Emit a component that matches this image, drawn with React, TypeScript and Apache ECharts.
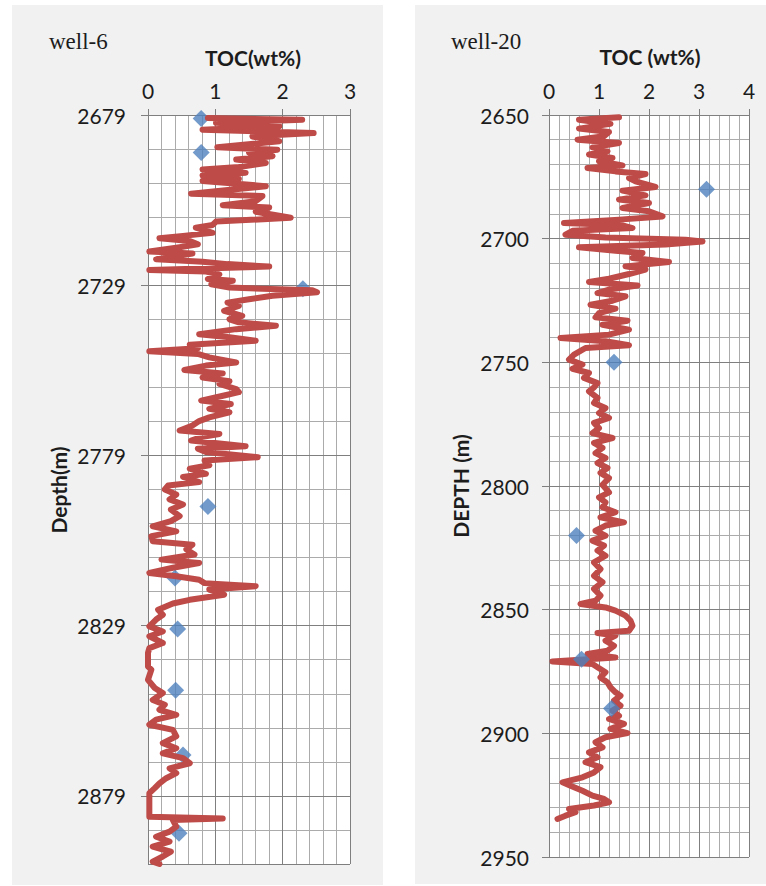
import React, { useEffect, useRef } from "react";
import * as echarts from "echarts";

// ---------------- well-6 ----------------
const well6XTicks = [0, 1, 2, 3];
const well6DepthTicks = [2679, 2729, 2779, 2829, 2879];

const well6LogDepth = [
  2679.9, 2680.4, 2681.3, 2682.3, 2683.3, 2684.3, 2685.3, 2686.7, 2688.5, 2689.2,
  2690.1, 2691.1, 2692.1, 2693.1, 2694.3, 2695.0, 2696.0, 2696.8, 2697.8, 2698.4,
  2699.9, 2700.9, 2702.1, 2702.8, 2704.3, 2705.5, 2706.2, 2707.4, 2709.2, 2710.3,
  2711.3, 2712.1, 2713.6, 2714.5, 2715.2, 2716.0, 2717.0, 2718.0, 2719.1, 2719.7,
  2721.4, 2722.1, 2722.8, 2723.5, 2724.5, 2725.0, 2725.8, 2727.2, 2727.7, 2728.7,
  2729.7, 2730.5, 2731.1, 2732.1, 2733.1, 2734.1, 2735.1, 2736.5, 2738.0, 2739.0,
  2739.9, 2740.9, 2741.9, 2743.4, 2744.3, 2745.3, 2746.5, 2747.5, 2748.4, 2749.2,
  2750.2, 2751.7, 2752.6, 2753.9, 2754.9, 2756.1, 2757.2, 2758.0, 2759.5, 2760.4,
  2761.4, 2762.9, 2763.9, 2765.3, 2766.3, 2767.8, 2768.9, 2770.2, 2771.7, 2772.7,
  2773.6, 2774.6, 2776.3, 2777.0, 2778.0, 2779.5, 2780.5, 2781.9, 2782.9, 2784.4,
  2785.3, 2786.8, 2787.8, 2789.0, 2790.5, 2791.9, 2793.4, 2794.9, 2796.8, 2798.3,
  2799.8, 2801.3, 2802.7, 2804.2, 2805.2, 2806.6, 2808.1, 2809.6, 2810.6, 2812.0,
  2813.5, 2814.5, 2815.5, 2816.5, 2817.4, 2818.4, 2819.9, 2821.4, 2822.5, 2824.3,
  2825.8, 2827.2, 2829.2, 2830.7, 2832.1, 2834.1, 2835.6, 2837.0, 2841.0, 2841.9,
  2844.9, 2847.3, 2848.8, 2850.8, 2852.2, 2853.7, 2855.2, 2856.6, 2858.1, 2859.6,
  2861.5, 2863.5, 2865.0, 2866.5, 2867.9, 2869.4, 2870.9, 2872.3, 2873.8, 2875.3,
  2876.7, 2878.2, 2880.2, 2883.1, 2885.1, 2885.6, 2886.1, 2888.0, 2889.5, 2891.0,
  2892.4, 2893.9, 2895.4, 2896.8, 2898.3, 2899.0,
];
const well6LogToc = [
  0.89, 2.29, 1.01, 1.95, 0.81, 2.46, 1.55, 1.95, 1.03, 1.92,
  1.50, 1.85, 1.31, 1.75, 1.35, 0.81, 1.45, 0.81, 1.35, 0.81,
  1.75, 1.26, 0.64, 1.70, 1.60, 1.11, 1.80, 1.60, 2.12, 1.01,
  0.96, 0.71, 0.96, 0.52, 0.17, 0.62, 0.74, 0.42, 0.02, 0.66,
  0.12, 0.81, 1.18, 1.80, 0.02, 0.86, 1.06, 0.89, 1.26, 0.94,
  1.21, 2.44, 2.51, 1.85, 1.50, 1.18, 1.35, 1.13, 1.40, 1.21,
  1.35, 1.90, 1.31, 0.76, 1.21, 1.60, 0.62, 0.74, 0.02, 0.74,
  0.91, 1.31, 0.86, 0.54, 1.11, 0.81, 1.21, 1.06, 1.31, 1.35,
  1.13, 0.79, 1.23, 0.91, 1.21, 0.91, 0.76, 0.66, 0.47, 1.06,
  0.79, 0.64, 1.45, 0.74, 0.86, 1.63, 0.84, 0.91, 0.62, 0.86,
  0.52, 0.76, 0.30, 0.25, 0.42, 0.32, 0.52, 0.34, 0.47, 0.34,
  0.07, 0.42, 0.05, 0.07, 0.66, 0.57, 0.69, 0.20, 0.76, 0.37,
  0.02, 0.42, 0.76, 0.84, 1.60, 0.91, 1.13, 0.62, 0.37, 0.15,
  0.22, 0.12, 0.02, 0.22, 0.02, 0.22, 0.02, 0.00, 0.00, 0.05,
  0.00, 0.10, 0.22, 0.07, 0.25, 0.17, 0.42, 0.12, 0.02, 0.37,
  0.42, 0.22, 0.42, 0.22, 0.52, 0.62, 0.32, 0.42, 0.27, 0.17,
  0.10, 0.02, 0.02, 0.02, 0.02, 1.11, 0.37, 0.42, 0.32, 0.12,
  0.32, 0.07, 0.34, 0.22, 0.07, 0.17,
];
const well6SampleDepth = [2680, 2690, 2730, 2794, 2815, 2830, 2848, 2867, 2890];
const well6SampleToc = [0.79, 0.79, 2.3, 0.89, 0.4, 0.44, 0.41, 0.52, 0.46];

// ---------------- well-20 ----------------
const well20XTicks = [0, 1, 2, 3, 4];
const well20DepthTicks = [2650, 2700, 2750, 2800, 2850, 2900, 2950];

const well20LogDepth = [
  2650.9, 2651.9, 2653.6, 2655.5, 2656.9, 2658.6, 2660.0, 2661.3, 2663.1, 2664.7,
  2666.0, 2667.4, 2668.7, 2670.4, 2671.4, 2672.8, 2673.9, 2675.5, 2676.8, 2679.1,
  2680.6, 2682.5, 2684.2, 2685.6, 2687.6, 2688.9, 2691.0, 2692.3, 2693.7, 2694.6,
  2695.7, 2696.8, 2698.4, 2699.5, 2700.4, 2701.1, 2702.4, 2703.5, 2704.9, 2705.8,
  2707.8, 2709.4, 2711.2, 2712.5, 2714.3, 2716.2, 2717.5, 2718.9, 2720.6, 2722.0,
  2723.3, 2725.1, 2726.7, 2728.3, 2730.1, 2731.8, 2733.2, 2734.8, 2736.8, 2738.8,
  2740.2, 2741.5, 2743.1, 2744.2, 2746.9, 2748.9, 2750.9, 2752.6, 2754.3, 2756.3,
  2758.4, 2760.1, 2761.7, 2764.4, 2766.4, 2768.5, 2770.5, 2772.5, 2774.5, 2776.6,
  2778.6, 2780.6, 2782.6, 2784.6, 2786.7, 2788.7, 2790.7, 2792.7, 2794.7, 2796.8,
  2799.5, 2802.6, 2804.6, 2806.6, 2808.6, 2810.6, 2812.7, 2814.7, 2816.0, 2818.1,
  2820.1, 2822.1, 2824.1, 2826.1, 2828.2, 2830.9, 2833.6, 2836.3, 2838.9, 2841.6,
  2844.3, 2846.4, 2847.7, 2849.1, 2850.4, 2852.4, 2854.4, 2856.5, 2858.5, 2859.4,
  2860.5, 2862.5, 2864.6, 2866.6, 2867.9, 2869.3, 2871.0, 2872.0, 2873.3, 2875.3,
  2877.4, 2879.4, 2881.4, 2883.4, 2884.8, 2886.8, 2888.8, 2890.8, 2892.9, 2894.2,
  2896.2, 2898.2, 2899.9, 2901.6, 2903.6, 2905.7, 2907.7, 2909.7, 2911.7, 2913.7,
  2915.8, 2917.8, 2919.8, 2921.2, 2923.2, 2925.2, 2926.5, 2927.9, 2929.2, 2930.6,
  2931.9, 2933.3, 2934.6,
];
const well20LogToc = [
  1.40, 0.60, 1.23, 0.60, 1.20, 1.10, 0.57, 1.40, 0.87, 1.17,
  0.80, 1.27, 1.00, 1.47, 0.77, 1.33, 1.93, 1.60, 1.73, 2.13,
  1.47, 1.93, 1.40, 2.00, 1.47, 2.00, 2.27, 1.40, 0.30, 1.47,
  1.67, 0.47, 0.33, 1.13, 2.73, 3.07, 2.33, 0.60, 1.33, 1.87,
  1.67, 2.40, 1.53, 1.93, 1.60, 1.20, 0.80, 1.77, 1.20, 0.97,
  1.53, 1.27, 0.83, 1.33, 1.00, 0.93, 1.57, 1.07, 1.60, 1.20,
  0.23, 1.13, 1.60, 0.73, 0.50, 0.40, 0.67, 0.47, 0.80, 0.70,
  0.97, 0.90, 0.80, 0.97, 0.90, 1.13, 1.00, 1.20, 0.90, 1.00,
  0.87, 1.27, 0.90, 1.07, 0.93, 1.13, 0.97, 1.17, 1.03, 1.20,
  1.07, 1.20, 1.00, 1.13, 1.07, 1.33, 1.03, 1.50, 1.13, 0.93,
  1.13, 0.87, 1.10, 0.97, 1.13, 0.90, 1.03, 0.90, 1.07, 0.90,
  1.03, 0.93, 0.63, 1.13, 1.33, 1.53, 1.63, 1.67, 1.60, 0.97,
  1.33, 1.13, 1.30, 1.17, 0.77, 1.33, 0.07, 0.87, 0.97, 1.13,
  1.03, 1.17, 1.23, 1.33, 1.43, 1.30, 1.43, 1.27, 1.40, 1.20,
  1.50, 1.23, 1.57, 1.13, 0.93, 1.07, 0.80, 0.97, 0.73, 1.03,
  0.90, 0.67, 0.27, 0.43, 0.67, 0.87, 1.10, 1.20, 0.90, 0.40,
  0.53, 0.33, 0.17,
];
const well20SampleDepth = [2680, 2750, 2820, 2870, 2890];
const well20SampleToc = [3.15, 1.3, 0.55, 0.65, 1.25];

const RED = "#BE4B48";
const BLUE = "#4F81BD";
const MAJOR = "#7F7F7F";
const MINOR = "#ABABAB";
const TEXT = "#1c1c1c";

function pairs(x: number[], y: number[]) {
  return x.map((v, i) => [v, y[i]]);
}

function xAxes(grid: number, max: number, ticks: number[]) {
  return [
    {
      gridIndex: grid,
      type: "value",
      position: "top",
      min: ticks[0],
      max,
      interval: 1,
      z: 2,
      axisLine: { show: true, lineStyle: { color: MAJOR, width: 1 } },
      axisTick: { show: true, length: 6, lineStyle: { color: MAJOR } },
      axisLabel: { margin: 14, fontFamily: "Lato", fontSize: 21, color: TEXT },
      splitLine: { show: true, lineStyle: { color: MAJOR, width: 1 } },
    },
    {
      gridIndex: grid,
      type: "value",
      position: "bottom",
      min: 0,
      max,
      interval: 0.2,
      z: 1,
      axisLine: { show: false },
      axisTick: { show: false },
      axisLabel: { show: false },
      splitLine: { show: true, lineStyle: { color: MINOR, width: 1 } },
    },
  ];
}

function yAxes(grid: number, min: number, max: number, margin: number) {
  return [
    {
      gridIndex: grid,
      type: "value",
      inverse: true,
      min,
      max,
      interval: 50,
      z: 2,
      axisLine: { show: true, lineStyle: { color: MAJOR, width: 1 } },
      axisTick: { show: true, length: 7, lineStyle: { color: MAJOR } },
      axisLabel: {
        margin,
        fontFamily: "Lato",
        fontSize: 21,
        color: TEXT,
        showMaxLabel: max % 50 === min % 50,
        formatter: (v: number) => String(Math.round(v)),
      },
      splitLine: { show: true, lineStyle: { color: MAJOR, width: 1 } },
    },
    {
      gridIndex: grid,
      type: "value",
      inverse: true,
      min,
      max,
      interval: 10,
      z: 1,
      axisLine: { show: false },
      axisTick: { show: false },
      axisLabel: { show: false },
      splitLine: { show: true, lineStyle: { color: MINOR, width: 1 } },
    },
  ];
}

export default function App() {
  const ref = useRef<HTMLDivElement>(null);

  useEffect(() => {
    const chart = echarts.init(ref.current!, null, { renderer: "svg" });
    const option: any = {
      animation: false,
      backgroundColor: "#ffffff",
      grid: [
        { left: 148, top: 115, width: 202, height: 749, show: true, backgroundColor: "#ffffff", borderWidth: 0 },
        { left: 549, top: 115, width: 200, height: 742, show: true, backgroundColor: "#ffffff", borderWidth: 0 },
      ],
      xAxis: [
        ...xAxes(0, well6XTicks[well6XTicks.length - 1], well6XTicks),
        ...xAxes(1, well20XTicks[well20XTicks.length - 1], well20XTicks),
      ],
      yAxis: [
        ...yAxes(0, well6DepthTicks[0], 2899, 22),
        ...yAxes(1, well20DepthTicks[0], well20DepthTicks[well20DepthTicks.length - 1], 20),
      ],
      graphic: [
        { type: "rect", z: -100, shape: { x: 12, y: 5, width: 371, height: 880 }, style: { fill: "#F1F1F1" } },
        { type: "rect", z: -100, shape: { x: 415, y: 5, width: 351, height: 879 }, style: { fill: "#F1F1F1" } },
        {
          type: "text", x: 49, y: 30,
          style: { text: "well-6", font: '23px "Liberation Serif"', fill: TEXT },
        },
        {
          type: "text", x: 451, y: 30,
          style: { text: "well-20", font: '23px "Liberation Serif"', fill: TEXT },
        },
        {
          type: "text", x: 253, y: 57,
          style: { text: "TOC(wt%)", font: 'bold 21px "Lato"', fill: TEXT, align: "center", verticalAlign: "middle" },
        },
        {
          type: "text", x: 650, y: 56,
          style: { text: "TOC (wt%)", font: 'bold 21px "Lato"', fill: TEXT, align: "center", verticalAlign: "middle" },
        },
        {
          type: "text", x: 58, y: 490, rotation: Math.PI / 2,
          style: { text: "Depth(m)", font: 'bold 21px "Lato"', fill: TEXT, align: "center", verticalAlign: "middle" },
        },
        {
          type: "text", x: 460, y: 486, rotation: Math.PI / 2,
          style: { text: "DEPTH (m)", font: 'bold 21px "Lato"', fill: TEXT, align: "center", verticalAlign: "middle" },
        },
      ],
      series: [
        {
          type: "scatter",
          xAxisIndex: 0,
          yAxisIndex: 0,
          symbol: "diamond",
          symbolSize: 17,
          itemStyle: { color: BLUE },
          z: 3,
          data: pairs(well6SampleToc, well6SampleDepth),
        },
        {
          type: "line",
          xAxisIndex: 0,
          yAxisIndex: 0,
          showSymbol: false,
          clip: true,
          lineStyle: { color: RED, width: 6, cap: "round", join: "round" },
          z: 4,
          data: pairs(well6LogToc, well6LogDepth),
        },
        {
          type: "line",
          xAxisIndex: 2,
          yAxisIndex: 2,
          showSymbol: false,
          clip: true,
          lineStyle: { color: RED, width: 6, cap: "round", join: "round" },
          z: 3,
          data: pairs(well20LogToc, well20LogDepth),
        },
        {
          type: "scatter",
          xAxisIndex: 2,
          yAxisIndex: 2,
          symbol: "diamond",
          symbolSize: 17,
          itemStyle: { color: BLUE },
          z: 4,
          data: pairs(well20SampleToc, well20SampleDepth),
        },
      ],
    };
    chart.setOption(option);
    return () => chart.dispose();
  }, []);

  return (
    <div
      ref={ref}
      style={{ position: "fixed", left: 0, top: 0, width: 766, height: 886, background: "#fff" }}
    />
  );
}
